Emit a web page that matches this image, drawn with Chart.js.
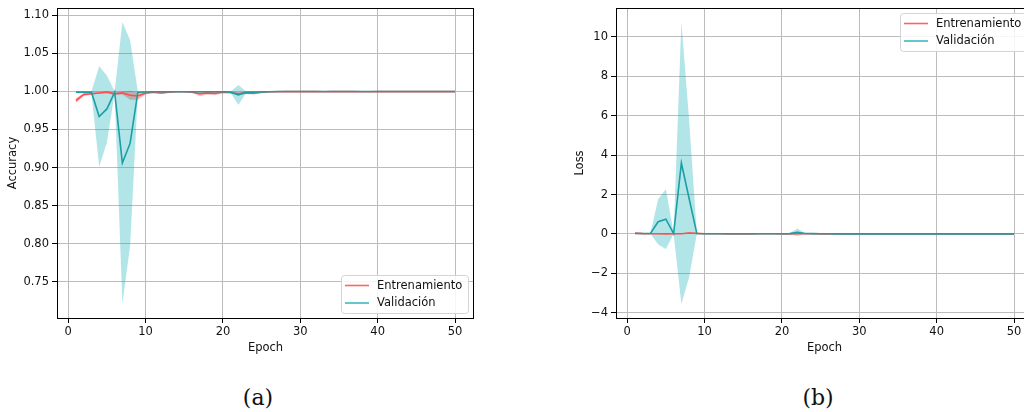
<!DOCTYPE html>
<html><head><meta charset="utf-8">
<script src="https://cdn.jsdelivr.net/npm/chart.js@4/dist/chart.umd.min.js"></script>
<style>
html,body{margin:0;padding:0;width:1024px;height:412px;overflow:hidden;background:#fff;}
#wa{position:absolute;left:0;top:0;width:490px;height:360px;}
#wb{position:absolute;left:560px;top:0;width:480px;height:360px;}
.cap{position:absolute;font-family:"DejaVu Serif";font-size:22px;color:#111;transform:translate(-50%,-50%);white-space:nowrap;}
</style></head><body>
<div id="wa"><canvas id="ca" width="490" height="360"></canvas></div>
<div id="wb"><canvas id="cb" width="480" height="360"></canvas></div>
<div class="cap" id="capA" style="left:258px;top:397px;">(a)</div>
<div class="cap" id="capB" style="left:818px;top:397px;">(b)</div>
<script>
const epochs = [1,2,3,4,5,6,7,8,9,10,11,12,13,14,15,16,17,18,19,20,21,22,23,24,25,26,27,28,29,30,31,32,33,34,35,36,37,38,39,40,41,42,43,44,45,46,47,48,49,50];
const xTicks = [0,10,20,30,40,50];
const xTickLabels = ['0','10','20','30','40','50'];
const accTicks = [0.75,0.80,0.85,0.90,0.95,1.00,1.05,1.10];
const accTickLabels = ['0.75','0.80','0.85','0.90','0.95','1.00','1.05','1.10'];
const lossTicks = [-4,-2,0,2,4,6,8,10];
const lossTickLabels = ['\u22124','\u22122','0','2','4','6','8','10'];
const seriesNames = ['Entrenamiento','Validación'];

const accTrainMean = [0.988,0.996,0.997,0.998,0.999,0.997,0.998,0.995,0.994,0.998,
  0.999,0.998,0.999,0.9995,0.9995,0.999,0.997,0.998,0.9975,0.999,
  0.9985,0.997,0.998,0.9975,0.999,0.9995,0.9995,0.9997,0.9997,0.9997,
  0.9997,0.9997,0.9996,0.9997,0.9997,0.9997,0.9997,0.9996,0.9995,0.9997,
  0.9997,0.9997,0.9997,0.9997,0.9997,0.9997,0.9997,0.9997,0.9997,0.9997];
const accTrainStd = [0.003,0.002,0.0015,0.001,0.001,0.002,0.002,0.006,0.005,0.002,
  0.001,0.0015,0.0008,0.0005,0.0005,0.0008,0.003,0.002,0.0025,0.001,
  0.001,0.002,0.0015,0.0015,0.001,0.0005,0.0005,0.0003,0.0003,0.0003,
  0.0003,0.0003,0.0004,0.0003,0.0003,0.0003,0.0003,0.0004,0.0006,0.0003,
  0.0003,0.0003,0.0003,0.0003,0.0003,0.0003,0.0003,0.0003,0.0003,0.0003];
const accValMean = [0.999,0.999,0.999,0.967,0.977,0.999,0.906,0.932,0.999,0.9992,
  0.9995,0.9995,0.9995,0.9996,0.9996,0.9996,0.9995,0.9995,0.9995,0.9995,
  0.999,0.9955,0.999,0.999,0.9993,0.9995,0.9998,0.9998,0.9998,0.9998,
  0.9998,0.9998,0.9998,0.9998,0.9998,0.9998,0.9998,0.9998,0.9998,0.9998,
  0.9998,0.9998,0.9998,0.9998,0.9998,0.9998,0.9998,0.9998,0.9998,0.9998];
const accValStd = [0.001,0.001,0.001,0.066,0.044,0.001,0.185,0.135,0.001,0.0008,
  0.0005,0.0005,0.0005,0.0005,0.0005,0.0005,0.0005,0.0005,0.0005,0.0005,
  0.001,0.013,0.001,0.001,0.0004,0.0004,0.0002,0.0002,0.0002,0.0002,
  0.0002,0.0002,0.0002,0.0002,0.0002,0.0002,0.0002,0.0002,0.0002,0.0002,
  0.0002,0.0002,0.0002,0.0002,0.0002,0.0002,0.0002,0.0002,0.0002,0.0002];

const lossTrainMean = [0.04,0.015,0.01,0.008,0.006,0.01,0.012,0.05,0.03,0.01,
  0.008,0.009,0.006,0.005,0.005,0.006,0.01,0.008,0.009,0.006,
  0.006,0.009,0.007,0.008,0.005,0.004,0.004,0.003,0.003,0.003,
  0.003,0.003,0.003,0.003,0.003,0.003,0.003,0.003,0.004,0.003,
  0.003,0.003,0.003,0.003,0.003,0.003,0.003,0.003,0.003,0.003];
const lossTrainStd = [0.02,0.008,0.005,0.004,0.004,0.006,0.008,0.03,0.02,0.006,
  0.004,0.005,0.003,0.002,0.002,0.003,0.008,0.005,0.006,0.003,
  0.003,0.006,0.004,0.005,0.002,0.002,0.002,0.001,0.001,0.001,
  0.001,0.001,0.001,0.001,0.001,0.001,0.001,0.001,0.002,0.001,
  0.001,0.001,0.001,0.001,0.001,0.001,0.001,0.001,0.001,0.001];
const lossValMean = [0.02,0.02,0.02,0.62,0.75,0.02,3.6,1.8,0.02,0.012,
  0.01,0.01,0.01,0.008,0.008,0.008,0.01,0.01,0.01,0.01,
  0.015,0.08,0.02,0.015,0.01,0.008,0.005,0.005,0.005,0.005,
  0.005,0.005,0.005,0.005,0.005,0.005,0.005,0.005,0.005,0.005,
  0.005,0.005,0.005,0.005,0.005,0.005,0.005,0.005,0.005,0.005];
const lossValStd = [0.01,0.01,0.01,1.15,1.52,0.02,7.15,4.0,0.02,0.01,
  0.008,0.008,0.008,0.006,0.006,0.006,0.008,0.008,0.008,0.008,
  0.02,0.2,0.02,0.015,0.008,0.006,0.004,0.004,0.004,0.004,
  0.004,0.004,0.004,0.004,0.004,0.004,0.004,0.004,0.004,0.004,
  0.004,0.004,0.004,0.004,0.004,0.004,0.004,0.004,0.004,0.004];

const RED = '#ff4d4d', TEAL = '#1a9fa6';
const RED_BAND = 'rgba(255,0,0,0.3)', TEAL_BAND = 'rgba(0,170,180,0.3)';
const FONT = 'DejaVu Sans';
const FS = 11.5;

function pts(arr){ return arr.map((v,i)=>({x:epochs[i], y:v})); }
function band(mean,std,sign){ return mean.map((m,i)=>({x:epochs[i], y:m+sign*std[i]})); }

function datasets(tm,ts,vm,vs){
  return [
    {label:seriesNames[1], data:pts(vm), borderColor:TEAL, borderWidth:1.6, pointRadius:0, fill:false, order:1, tension:0},
    {data:band(vm,vs,1), borderWidth:0, borderColor:'rgba(0,0,0,0)', backgroundColor:TEAL_BAND, pointRadius:0, fill:'+1', order:3},
    {data:band(vm,vs,-1), borderWidth:0, borderColor:'rgba(0,0,0,0)', pointRadius:0, fill:false, order:3},
    {label:seriesNames[0], data:pts(tm), borderColor:RED, borderWidth:1.6, pointRadius:0, fill:false, order:2, tension:0},
    {data:band(tm,ts,1), borderWidth:0, borderColor:'rgba(0,0,0,0)', backgroundColor:RED_BAND, pointRadius:0, fill:'+1', order:4},
    {data:band(tm,ts,-1), borderWidth:0, borderColor:'rgba(0,0,0,0)', pointRadius:0, fill:false, order:4}
  ];
}

const framePlugin = {
  id:'frame',
  afterDatasetsDraw(chart){
    const {ctx, chartArea:a} = chart;
    ctx.save();
    ctx.strokeStyle = '#000'; ctx.lineWidth = 1;
    ctx.strokeRect(Math.round(a.left)+0.5, Math.round(a.top)+0.5, Math.round(a.right-a.left)-1, Math.round(a.bottom-a.top));
    ctx.restore();
  }
};
const legendPlugin = {
  id:'boxLegend',
  afterDraw(chart, args, opts){
    const {ctx, chartArea:a} = chart;
    const w = 127, h = 38;
    const x = a.right - 6 - w;
    const y = opts.where === 'lower' ? a.bottom - 5 - h : a.top + 5;
    ctx.save();
    ctx.beginPath();
    if (ctx.roundRect) ctx.roundRect(x+0.5, y+0.5, w, h, 3); else ctx.rect(x+0.5,y+0.5,w,h);
    ctx.fillStyle = 'rgba(255,255,255,0.85)'; ctx.fill();
    ctx.strokeStyle = '#d4d4d4'; ctx.lineWidth = 1; ctx.stroke();
    const rows = [[seriesNames[0], '#ff6464', 10.5], [seriesNames[1], '#3cb9bf', 28]];
    ctx.font = FS + 'px "' + FONT + '"';
    ctx.textBaseline = 'middle'; ctx.textAlign = 'left';
    for (const [t,c,dy] of rows){
      ctx.strokeStyle = c; ctx.lineWidth = 1.6;
      ctx.beginPath(); ctx.moveTo(x+4, y+dy); ctx.lineTo(x+28, y+dy); ctx.stroke();
      ctx.fillStyle = '#111'; ctx.fillText(t, x+36, y+dy+0.5);
    }
    ctx.restore();
  }
};

function makeChart(id, ds, yMin, yMax, yTicks, yLabels, yTitle, yWidth, yTitlePad, padRight, legendWhere){
  return new Chart(document.getElementById(id), {
    type:'line',
    data:{datasets:ds},
    plugins:[framePlugin, legendPlugin],
    options:{
      responsive:false, animation:false, devicePixelRatio:1,
      layout:{padding:{top:8, left:0, right:padRight, bottom:0}},
      plugins:{legend:{display:false}, tooltip:{enabled:false}, boxLegend:{where:legendWhere},
        filler:{propagate:false}},
      scales:{
        x:{type:'linear', min:-1.45, max:52.45,
          afterBuildTicks:s=>{ s.ticks = xTicks.map(v=>({value:v})); },
          afterFit:s=>{ s.height = 42; s.paddingLeft = 0; s.paddingRight = 0; },
          ticks:{callback:(v,i)=>xTickLabels[i], font:{family:FONT, size:FS}, color:'#111', padding:2, maxRotation:0, autoSkip:false},
          grid:{color:'#bcbcbc', lineWidth:1, tickColor:'#000', tickLength:5, tickWidth:1},
          border:{display:false},
          title:{display:true, text:'Epoch', font:{family:FONT, size:FS}, color:'#111', padding:{top:0, bottom:5}}
        },
        y:{type:'linear', min:yMin, max:yMax,
          afterBuildTicks:s=>{ s.ticks = yTicks.map(v=>({value:v})); },
          afterFit:s=>{ s.width = yWidth; s.paddingTop = 0; s.paddingBottom = 0; },
          ticks:{callback:(v,i)=>yLabels[i], font:{family:FONT, size:FS}, color:'#111', padding:3, autoSkip:false},
          grid:{color:'#bcbcbc', lineWidth:1, tickColor:'#000', tickLength:5, tickWidth:1},
          border:{display:false},
          title:{display:true, text:yTitle, font:{family:FONT, size:FS}, color:'#111', padding:{top:yTitlePad, bottom:0}}
        }
      }
    }
  });
}

makeChart('ca', datasets(accTrainMean, accTrainStd, accValMean, accValStd), 0.7025, 1.1095, accTicks, accTickLabels, 'Accuracy', 57, 6.1, 16, 'lower');
makeChart('cb', datasets(lossTrainMean, lossTrainStd, lossValMean, lossValStd), -4.265, 11.465, lossTicks, lossTickLabels, 'Loss', 56, 13.1, 7, 'upper');
</script>
</body></html>
